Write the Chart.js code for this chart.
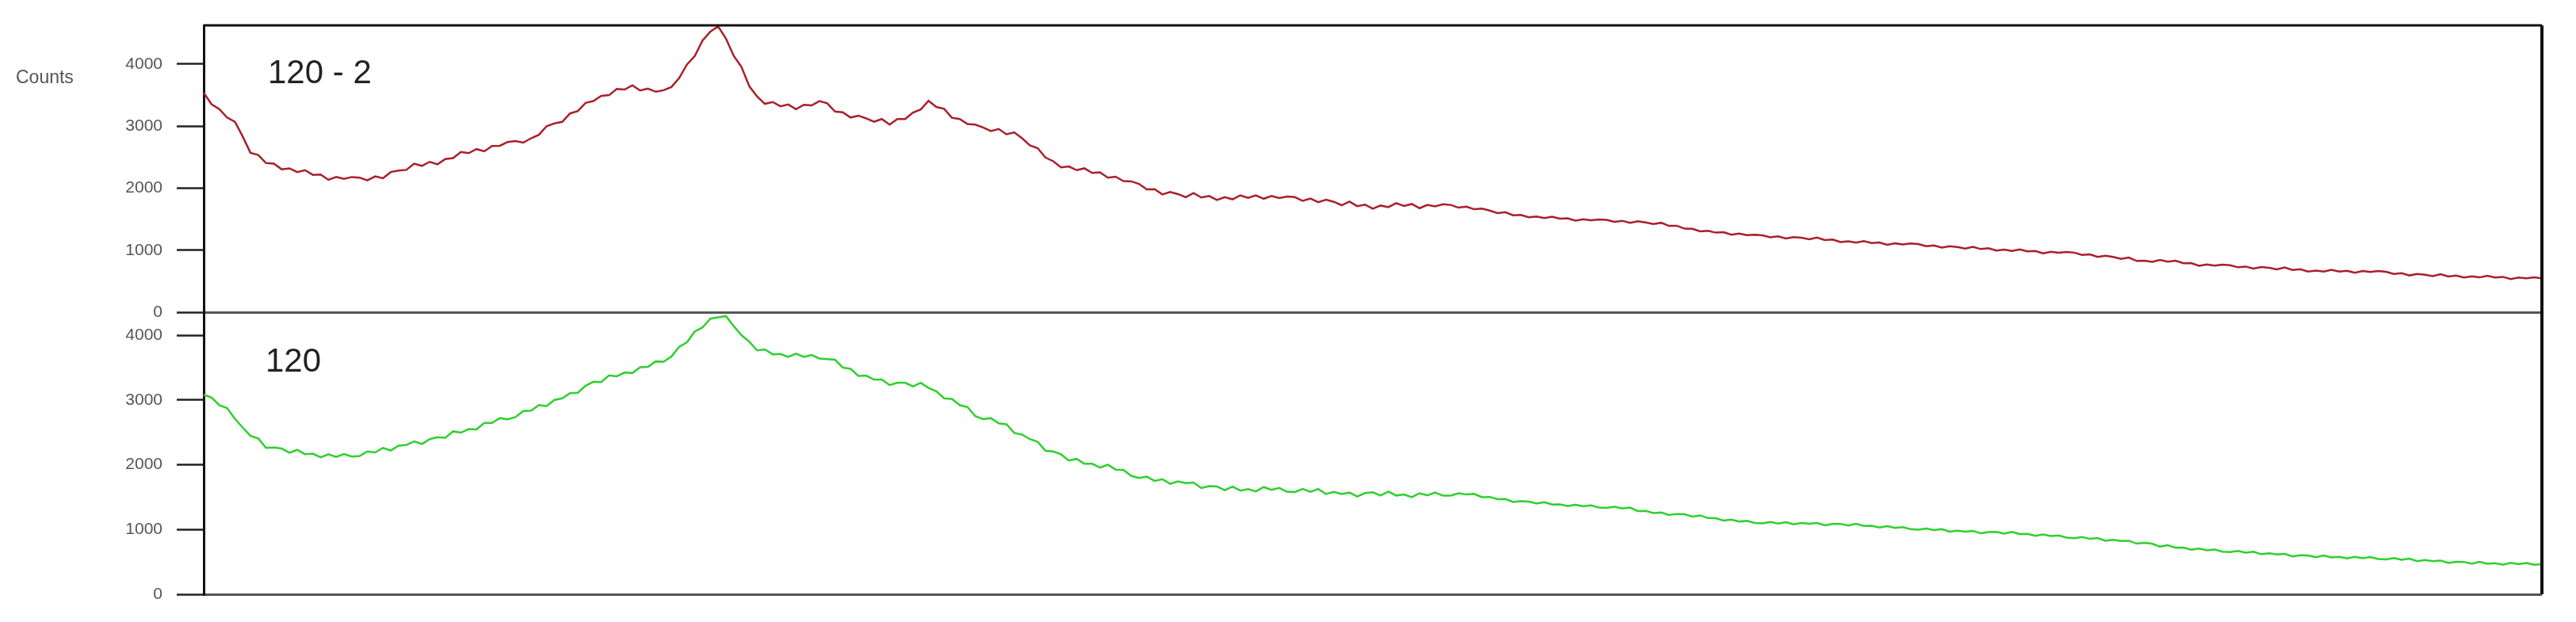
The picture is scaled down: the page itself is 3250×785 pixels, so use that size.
<!DOCTYPE html>
<html>
<head>
<meta charset="utf-8">
<title>Counts</title>
<script src="https://cdn.jsdelivr.net/npm/chart.js@4.4.1/dist/chart.umd.min.js"></script>
<style>
    html, body { margin: 0; padding: 0; background: #fff; }
    #xrdChart { display: block; }
</style>
</head>
<body>
<canvas id="xrdChart" width="3250" height="785"></canvas>
<script>
// scan grid (2-theta, degrees)
const scanStart = 5;
const scanStep = 0.25;

// sample "120 - 2" (top panel)
const counts120_2 = [
    3540, 3355, 3275, 3140, 3070, 2835, 2570, 2535, 2405, 2395,
    2305, 2320, 2260, 2290, 2215, 2220, 2135, 2180, 2150, 2180,
    2170, 2125, 2190, 2160, 2260, 2285, 2295, 2395, 2360, 2425,
    2385, 2470, 2485, 2585, 2565, 2630, 2595, 2680, 2685, 2745,
    2760, 2735, 2805, 2860, 3000, 3045, 3070, 3205, 3245, 3375,
    3405, 3490, 3500, 3600, 3590, 3660, 3575, 3605, 3555, 3580,
    3630, 3775, 3995, 4130, 4380, 4525, 4610, 4415, 4135, 3955,
    3645, 3480, 3360, 3390, 3320, 3350, 3275, 3345, 3335, 3405,
    3370, 3235, 3225, 3140, 3170, 3125, 3070, 3115, 3025, 3115,
    3115, 3220, 3270, 3410, 3310, 3280, 3135, 3115, 3035, 3025,
    2980, 2920, 2955, 2870, 2900, 2805, 2690, 2645, 2495, 2435,
    2335, 2350, 2290, 2320, 2245, 2255, 2170, 2185, 2115, 2110,
    2070, 1980, 1985, 1900, 1940, 1905, 1855, 1920, 1850, 1875,
    1810, 1855, 1820, 1885, 1845, 1885, 1830, 1875, 1840, 1865,
    1855, 1795, 1833, 1775, 1815, 1780, 1725, 1785, 1710, 1735,
    1670, 1720, 1695, 1760, 1712, 1745, 1677, 1730, 1705, 1740,
    1730, 1686, 1703, 1660, 1670, 1638, 1597, 1612, 1562, 1568,
    1530, 1543, 1518, 1540, 1507, 1515, 1476, 1498, 1481, 1496,
    1489, 1458, 1474, 1442, 1465, 1448, 1421, 1442, 1392, 1394,
    1347, 1345, 1305, 1314, 1283, 1290, 1250, 1268, 1242, 1248,
    1240, 1208, 1223, 1188, 1212, 1200, 1177, 1205, 1164, 1172,
    1132, 1145, 1122, 1146, 1115, 1124, 1086, 1110, 1093, 1108,
    1098, 1064, 1077, 1042, 1065, 1050, 1025, 1055, 1018, 1031,
    994, 1010, 988, 1012, 980, 988, 950, 974, 957, 971,
    960, 923, 933, 893, 910, 891, 861, 882, 827, 832,
    812, 843, 815, 830, 790, 792, 748, 770, 752, 766,
    757, 724, 736, 702, 727, 715, 690, 720, 682, 694,
    656, 672, 654, 682, 655, 668, 635, 664, 649, 663,
    652, 616, 628, 593, 617, 605, 581, 612, 576, 592,
    559, 579, 561, 588, 559, 570, 534, 560, 545, 563,
    545
];

// sample "120" (bottom panel)
const counts120 = [
    3080, 3040, 2920, 2875, 2710, 2575, 2445, 2405, 2260, 2265,
    2250, 2185, 2230, 2163, 2170, 2115, 2160, 2120, 2165, 2125,
    2135, 2205, 2190, 2260, 2220, 2295, 2305, 2360, 2320, 2395,
    2425, 2415, 2515, 2495, 2550, 2545, 2645, 2645, 2720, 2700,
    2735, 2830, 2835, 2920, 2905, 3000, 3025, 3105, 3110, 3220,
    3280, 3275, 3380, 3365, 3425, 3415, 3505, 3510, 3595, 3590,
    3670, 3820, 3890, 4055, 4120, 4255, 4275, 4295, 4140, 4000,
    3900, 3765, 3780, 3705, 3710, 3665, 3715, 3665, 3695, 3640,
    3630, 3620, 3500, 3480, 3370, 3375, 3315, 3315, 3230, 3265,
    3265, 3210, 3265, 3185, 3135, 3025, 3015, 2920, 2890, 2750,
    2705, 2720, 2640, 2625, 2490, 2465, 2395, 2355, 2215, 2205,
    2160, 2065, 2090, 2015, 2015, 1955, 2000, 1925, 1920, 1828,
    1795, 1815, 1750, 1777, 1705, 1743, 1715, 1725, 1640, 1670,
    1665, 1607, 1662, 1600, 1623, 1589, 1655, 1612, 1642, 1583,
    1578, 1625, 1582, 1625, 1548, 1580, 1547, 1570, 1508, 1562,
    1575, 1525, 1585, 1525, 1542, 1500, 1560, 1527, 1570, 1522,
    1524, 1560, 1540, 1550, 1500, 1503, 1469, 1470, 1425, 1437,
    1432, 1400, 1422, 1386, 1389, 1360, 1382, 1359, 1372, 1340,
    1333, 1351, 1325, 1338, 1285, 1286, 1255, 1262, 1223, 1240,
    1236, 1200, 1218, 1176, 1173, 1137, 1152, 1123, 1133, 1100,
    1094, 1115, 1093, 1114, 1080, 1102, 1089, 1101, 1065, 1086,
    1087, 1061, 1089, 1056, 1059, 1030, 1052, 1026, 1037, 1005,
    998, 1016, 990, 1006, 967, 983, 966, 977, 941, 961,
    962, 935, 962, 929, 932, 903, 924, 898, 909, 874,
    866, 883, 855, 869, 827, 842, 823, 827, 782, 795,
    780, 736, 758, 720, 721, 688, 706, 678, 691, 658,
    651, 669, 642, 658, 617, 633, 615, 623, 584, 602,
    600, 572, 600, 569, 577, 553, 579, 558, 574, 544,
    539, 558, 532, 549, 511, 529, 512, 521, 483, 501,
    500, 472, 501, 471, 480, 457, 485, 466, 484, 457,
    465
];

const twoTheta = counts120_2.map((_, i) => +(scanStart + i * scanStep).toFixed(2));

const yTickValues = [0, 1000, 2000, 3000, 4000];
const topMax = 4626;
const bottomMax = 4355;
const panelLabels = ['120 - 2', '120'];
const yAxisLabel = 'Counts';

const FONT = '"Liberation Sans", Arial, sans-serif';

// outer frame + panel captions
const framePlugin = {
    id: 'frame',
    afterDraw(chart) {
        const { ctx, chartArea, scales } = chart;
        ctx.save();
        ctx.strokeStyle = '#111';
        ctx.lineWidth = 3;
        ctx.beginPath();
        ctx.moveTo(chartArea.left, chartArea.top);
        ctx.lineTo(chartArea.right, chartArea.top);
        ctx.stroke();
        ctx.lineWidth = 4;
        ctx.beginPath();
        ctx.moveTo(chartArea.right, chartArea.top);
        ctx.lineTo(chartArea.right, chartArea.bottom);
        ctx.stroke();

        ctx.fillStyle = '#222';
        ctx.font = '42px ' + FONT;
        ctx.textBaseline = 'alphabetic';
        ctx.fillText(panelLabels[0], chartArea.left + 81, scales.yTop.top + 73);
        ctx.fillText(panelLabels[1], chartArea.left + 78, scales.yBottom.top + 75);

        ctx.fillStyle = '#555';
        ctx.font = '23px ' + FONT;
        ctx.fillText(yAxisLabel, 20, scales.yTop.getPixelForValue(4000) + 24);
        ctx.restore();
    }
};

function panelAxis(max, weight) {
    return {
        type: 'linear',
        position: 'left',
        stack: 'panels',
        stackWeight: weight,
        min: 0,
        max: max,
        afterBuildTicks: axis => {
            axis.ticks = yTickValues.map(v => ({ value: v }));
        },
        afterFit: axis => {
            axis.width = 257;
        },
        ticks: {
            padding: 18,
            color: '#555',
            font: { family: FONT, size: 21 },
            callback: value => String(value)
        },
        grid: {
            drawOnChartArea: true,
            color: c => (c.tick && c.tick.value === 0 ? '#555' : 'rgba(0,0,0,0)'),
            lineWidth: 3,
            tickColor: '#222',
            tickLength: 34,
            tickWidth: 2.5
        },
        border: { display: true, color: '#111', width: 3 }
    };
}

function initializeChart() {
    const ctx = document.getElementById('xrdChart').getContext('2d');

    const data = {
        labels: twoTheta,
        datasets: [{
            label: panelLabels[0],
            data: counts120_2,
            yAxisID: 'yTop',
            borderColor: '#a8202a',
            borderWidth: 2.5,
            pointRadius: 0,
            tension: 0
        }, {
            label: panelLabels[1],
            data: counts120,
            yAxisID: 'yBottom',
            borderColor: '#2fcf2f',
            borderWidth: 2.5,
            pointRadius: 0,
            tension: 0
        }]
    };

    const config = {
        type: 'line',
        data: data,
        options: {
            responsive: false,
            animation: false,
            devicePixelRatio: 1,
            layout: {
                padding: { top: 32, right: 43, bottom: 35, left: 0 }
            },
            plugins: {
                legend: { display: false },
                tooltip: { enabled: false }
            },
            scales: {
                x: { display: false },
                yBottom: panelAxis(bottomMax, 356),
                yTop: panelAxis(topMax, 362)
            }
        },
        plugins: [framePlugin]
    };

    new Chart(ctx, config);
}

document.addEventListener('DOMContentLoaded', initializeChart);
</script>
</body>
</html>
